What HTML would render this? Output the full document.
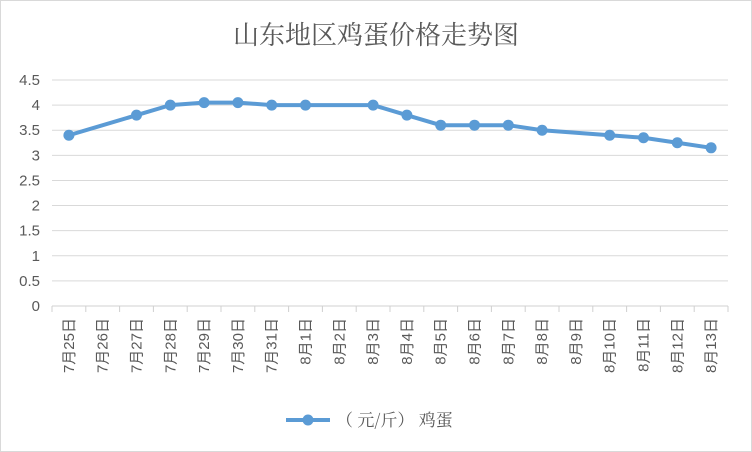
<!DOCTYPE html>
<html><head><meta charset="utf-8"><style>
body{margin:0;background:#fff}
svg{display:block;font-family:"Liberation Sans","Noto Sans CJK SC",sans-serif}
</style></head><body>
<svg width="752" height="452">
<rect x="0.5" y="0.5" width="751" height="451" fill="#fff" stroke="#d9d9d9"/>
<text x="376" y="44" text-anchor="middle" font-size="26" fill="#595959" font-family="Noto Serif CJK SC,serif">山东地区鸡蛋价格走势图</text>
<g id="grid"></g>
<g id="yt"></g>
<g id="xt"></g>
<g id="series"></g>
<g>
<line x1="286" y1="420" x2="330" y2="420" stroke="#5b9bd5" stroke-width="4"/>
<circle cx="308" cy="420" r="5.5" fill="#5b9bd5"/>
<text x="336" y="426" font-size="17" fill="#595959" font-family="Noto Serif CJK SC,serif" xml:space="preserve">（ 元/斤） 鸡蛋</text>
</g>
</svg>
<script>
const categories=["7月25日","7月26日","7月27日","7月28日","7月29日","7月30日","7月31日","8月1日","8月2日","8月3日","8月4日","8月5日","8月6日","8月7日","8月8日","8月9日","8月10日","8月11日","8月12日","8月13日"];
const values=[3.4,null,3.8,4.0,4.05,4.05,4.0,4.0,null,4.0,3.8,3.6,3.6,3.6,3.5,null,3.4,3.35,3.25,3.15];
const yTicks=[0,0.5,1,1.5,2,2.5,3,3.5,4,4.5];
const NS="http://www.w3.org/2000/svg";
const x0=52,x1=728,yBase=306,yTop=80,yMax=4.5;
const bw=(x1-x0)/categories.length;
const xs=i=>x0+bw*(i+0.5);
const ys=v=>yBase-(v/yMax)*(yBase-yTop);
function mk(tag,attrs,parent){const e=document.createElementNS(NS,tag);for(const k in attrs)e.setAttribute(k,attrs[k]);document.getElementById(parent).appendChild(e);return e;}
yTicks.forEach(t=>{
  const y=ys(t);
  const l=mk('line',{x1:x0,x2:x1,y1:y,y2:y,stroke:t===0?'#d0d0d0':'#d9d9d9','stroke-width':1},'grid');
  
  
  const tx=mk('text',{x:40,y:y+5,'text-anchor':'end','font-size':15,fill:'#595959'},'yt');
  tx.textContent=String(t);
  
  
});
for(let i=0;i<=categories.length;i++){
  const x=x0+bw*i;
  const l=mk('line',{x1:x,x2:x,y1:yBase,y2:yBase+6,stroke:'#d0d0d0'},'grid');
  
  
}
categories.forEach((c,i)=>{
  const x=xs(i);
  const t=mk('text',{x:0,y:0,'text-anchor':'end','font-size':15,fill:'#595959',transform:`translate(${x+5},318) rotate(-90)`},'xt');
  t.textContent=c;
  
  
});
const pts=[];values.forEach((v,i)=>{if(v!==null)pts.push([xs(i),ys(v)]);});
const p=mk('polyline',{points:pts.map(q=>q.join(',')).join(' '),fill:'none',stroke:'#5b9bd5','stroke-width':4,'stroke-linejoin':'round'},'series');


pts.forEach(q=>{
  const c=mk('circle',{cx:q[0],cy:q[1],r:5.5,fill:'#5b9bd5'},'series');
  
  
});
</script>
</body></html>
